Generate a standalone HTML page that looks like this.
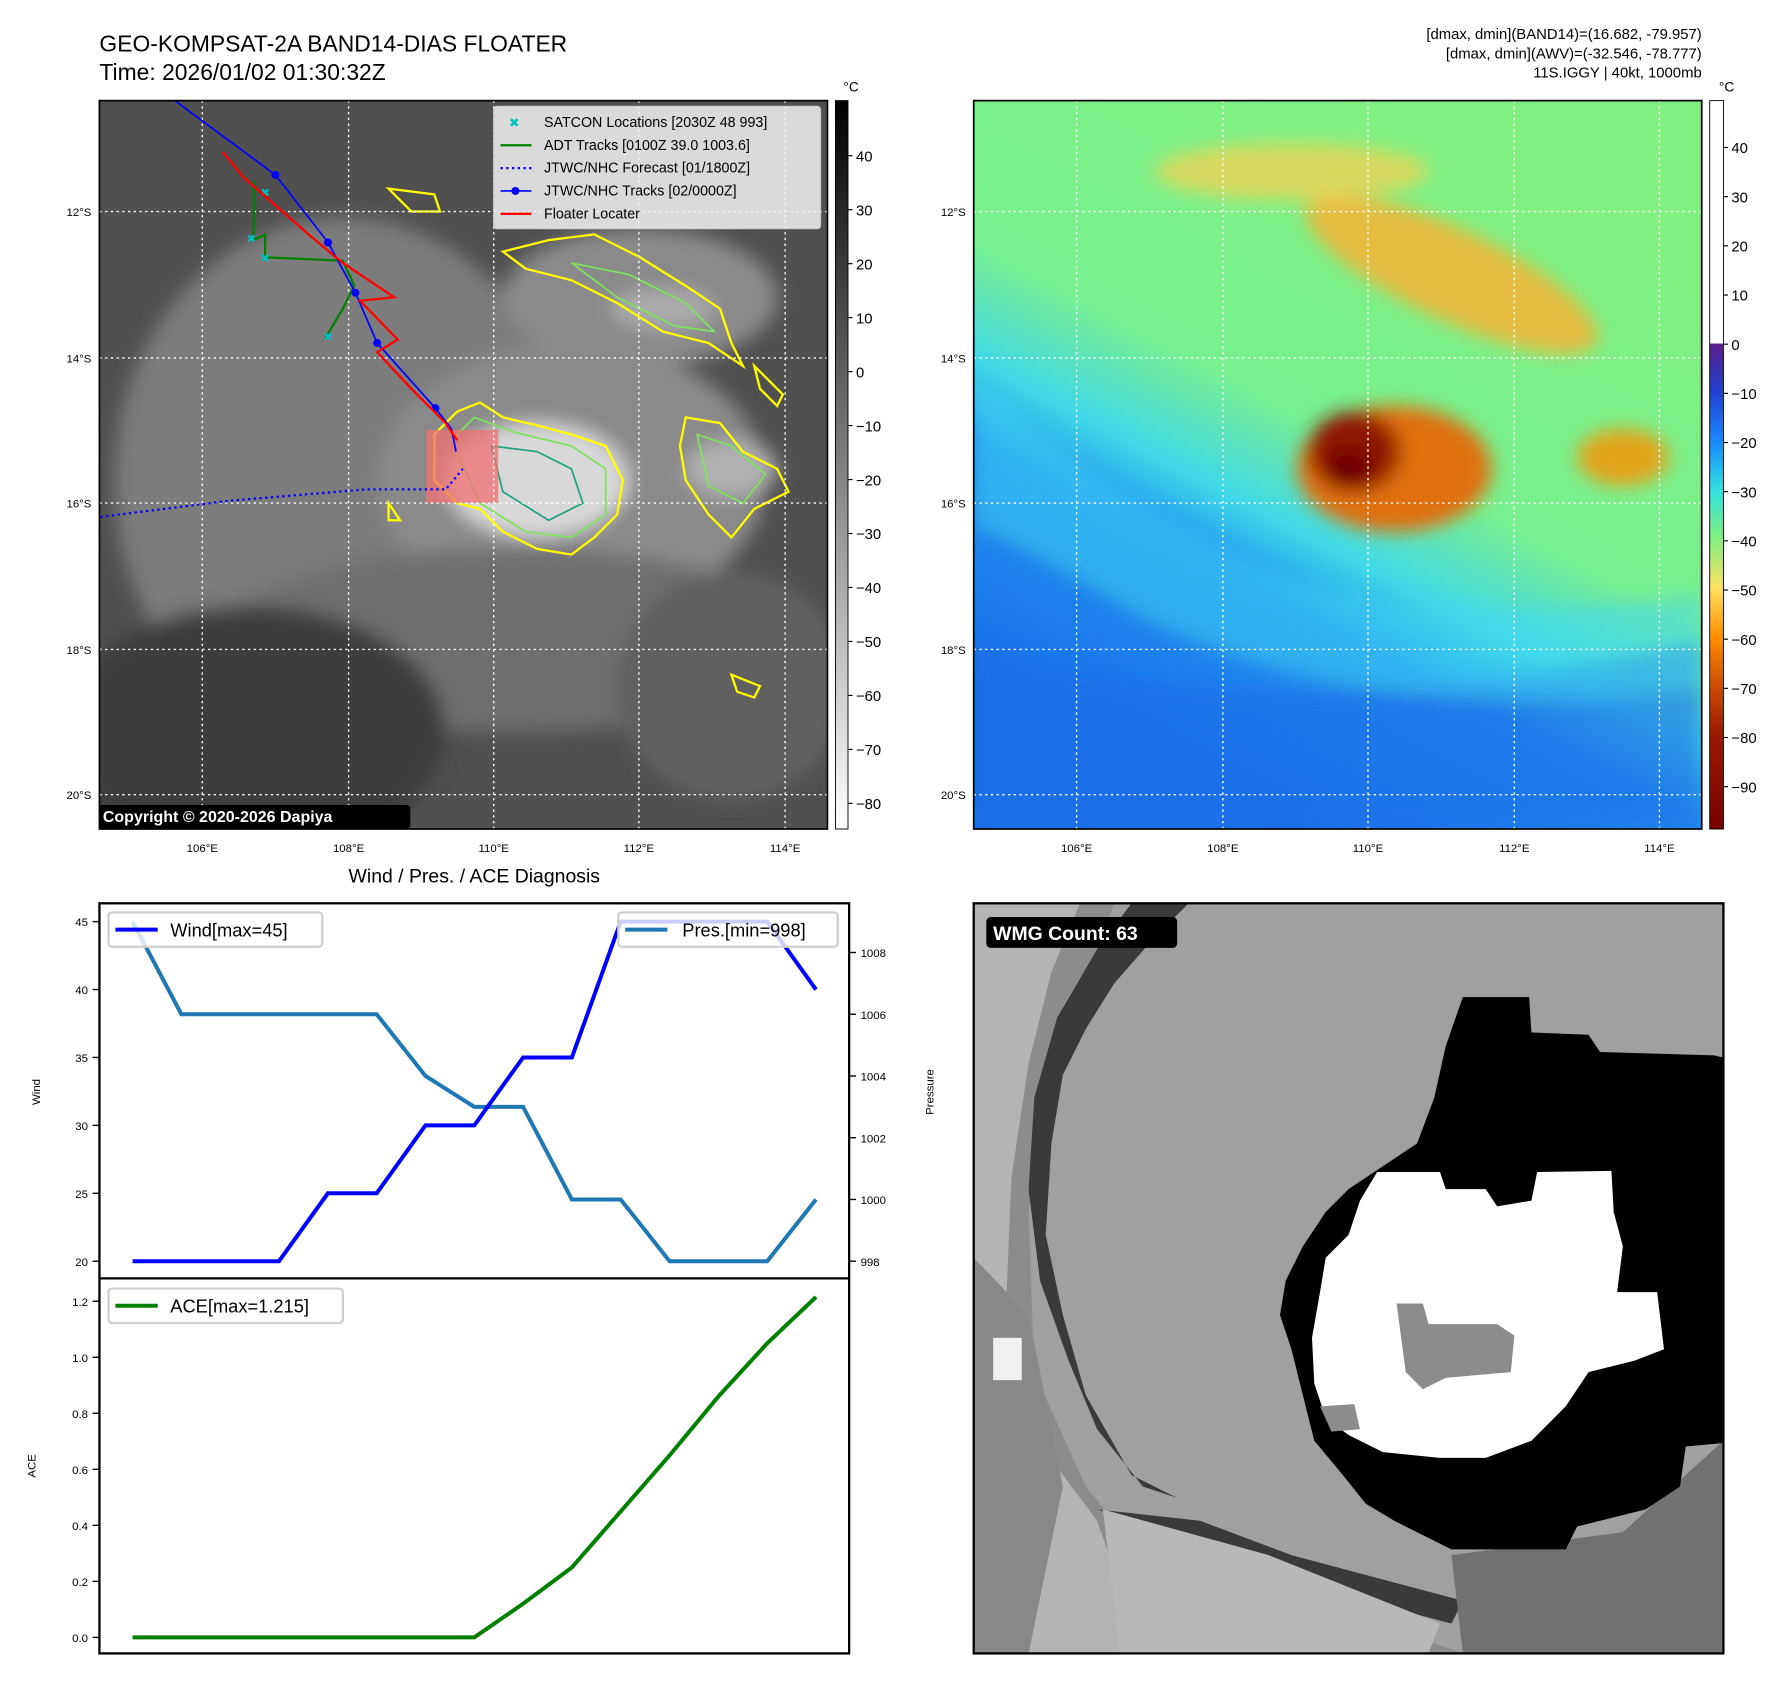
<!DOCTYPE html>
<html><head><meta charset="utf-8"><style>
html,body{margin:0;padding:0;background:#fff;}
svg{display:block;font-family:"Liberation Sans","DejaVu Sans",sans-serif;}
</style></head><body>
<svg id="root" width="1792" height="1690" viewBox="0 0 1568 1478" preserveAspectRatio="none" xmlns="http://www.w3.org/2000/svg">
<defs>
  <linearGradient id="gcb" x1="0" y1="0" x2="0" y2="1">
    <stop offset="0" stop-color="#000"/><stop offset="1" stop-color="#fff"/>
  </linearGradient>
  <linearGradient id="ccb" x1="0" y1="0" x2="0" y2="1">
    <stop offset="0" stop-color="#fff"/><stop offset="0.333" stop-color="#fff"/>
    <stop offset="0.334" stop-color="#5a1f8a"/><stop offset="0.40" stop-color="#2040d0"/>
    <stop offset="0.47" stop-color="#1a8cff"/><stop offset="0.535" stop-color="#30e0e0"/>
    <stop offset="0.60" stop-color="#80f080"/><stop offset="0.67" stop-color="#ffe060"/>
    <stop offset="0.735" stop-color="#ff9000"/><stop offset="0.80" stop-color="#d05000"/>
    <stop offset="0.87" stop-color="#9a1a00"/><stop offset="1" stop-color="#780000"/>
  </linearGradient>
  <linearGradient id="rmap" x1="0.75" y1="0.1" x2="0.3" y2="0.95">
    <stop offset="0" stop-color="#80f080"/><stop offset="0.45" stop-color="#78f090"/>
    <stop offset="0.6" stop-color="#40d8e8"/><stop offset="0.7" stop-color="#2090f0"/>
    <stop offset="1" stop-color="#1a70e8"/>
  </linearGradient>
  <filter id="blur8"><feGaussianBlur stdDeviation="8"/></filter>
  <clipPath id="clipL"><rect x="87" y="88" width="637" height="637"/></clipPath>
  <clipPath id="clipR"><rect x="852" y="88" width="637" height="637"/></clipPath>
  <clipPath id="clipB"><rect x="852" y="790" width="656" height="656"/></clipPath>
</defs>

<text x="87" y="45" font-size="20">GEO-KOMPSAT-2A BAND14-DIAS FLOATER</text>
<text x="87" y="70" font-size="20">Time: 2026/01/02 01:30:32Z</text>
<g font-size="13" text-anchor="end">
  <text x="1489" y="34">[dmax, dmin](BAND14)=(16.682, -79.957)</text>
  <text x="1489" y="51">[dmax, dmin](AWV)=(-32.546, -78.777)</text>
  <text x="1489" y="68">11S.IGGY | 40kt, 1000mb</text>
</g>

<!-- LEFT MAP -->
<g clip-path="url(#clipL)">
  <rect x="87" y="88" width="637" height="637" fill="#505050"/>
  <g filter="url(#blur8)">
    <ellipse cx="300" cy="420" rx="200" ry="230" fill="#7c7c7c"/>
    <ellipse cx="500" cy="420" rx="170" ry="120" fill="#8a8a8a"/>
    <ellipse cx="560" cy="260" rx="120" ry="60" fill="#8a8a8a"/>
    <ellipse cx="450" cy="560" rx="260" ry="80" fill="#6e6e6e"/>
    <ellipse cx="220" cy="640" rx="170" ry="110" fill="#3c3c3c"/>
    <ellipse cx="640" cy="600" rx="100" ry="100" fill="#606060"/>
    <ellipse cx="470" cy="420" rx="80" ry="50" fill="#d8d8d8"/>
    <ellipse cx="640" cy="410" rx="40" ry="25" fill="#b0b0b0"/>
    <ellipse cx="580" cy="270" rx="45" ry="18" fill="#aaa"/>
  </g>
  <path d="M380,380 L400,360 L420,352 L440,365 L470,372 L500,380 L530,390 L545,420 L540,450 L520,470 L500,485 L470,480 L440,465 L420,445 L400,440 L380,420 Z" fill="none" stroke="#ffff00" stroke-width="2"/>
  <path d="M395,385 L415,365 L450,378 L500,390 L530,410 L530,450 L500,470 L460,465 L420,440 Z" fill="none" stroke="#80e060" stroke-width="1.5"/>
  <path d="M430,390 L470,395 L500,410 L510,440 L480,455 L440,430 Z" fill="none" stroke="#20a080" stroke-width="1.5"/>
  <path d="M440,220 L480,210 L520,205 L560,225 L600,250 L630,270 L640,300 L650,320 L620,300 L580,290 L540,265 L500,245 L460,235 Z" fill="none" stroke="#ffff00" stroke-width="2"/>
  <path d="M500,230 L550,240 L600,265 L625,290 L590,285 L540,260 Z" fill="none" stroke="#80e060" stroke-width="1.5"/>
  <path d="M600,365 L630,370 L650,395 L680,410 L690,430 L660,445 L640,470 L620,450 L600,420 L595,390 Z" fill="none" stroke="#ffff00" stroke-width="2"/>
  <path d="M610,380 L640,390 L670,415 L650,440 L620,425 Z" fill="none" stroke="#80e060" stroke-width="1.5"/>
  <path d="M340,165 L380,170 L385,185 L360,185 Z M660,320 L685,345 L680,355 L665,340 Z M340,440 L350,455 L340,455 Z M640,590 L665,600 L660,610 L645,605 Z" fill="none" stroke="#ffff00" stroke-width="2"/>
  <rect x="373" y="376" width="63" height="64" fill="#f07070" fill-opacity="0.75"/>
  <g stroke="#fff" stroke-width="1.2" stroke-dasharray="2,3">
    <line x1="87" y1="185" x2="724" y2="185"/><line x1="87" y1="313" x2="724" y2="313"/>
    <line x1="87" y1="440" x2="724" y2="440"/><line x1="87" y1="568" x2="724" y2="568"/>
    <line x1="87" y1="695" x2="724" y2="695"/>
    <line x1="177" y1="88" x2="177" y2="725"/><line x1="305" y1="88" x2="305" y2="725"/>
    <line x1="432" y1="88" x2="432" y2="725"/><line x1="559" y1="88" x2="559" y2="725"/>
    <line x1="687" y1="88" x2="687" y2="725"/>
  </g>
  <polyline points="88,452 200,438 320,428 390,428 405,410" fill="none" stroke="#0000ff" stroke-width="2" stroke-dasharray="2,3"/>
  <polyline points="222,158 222,210 232,205 232,225 300,228 310,250 300,270 285,295" fill="none" stroke="#008000" stroke-width="2"/>
  <g fill="#00c0c0" font-size="10" text-anchor="middle">
    <text x="220" y="212">✖</text><text x="232" y="229">✖</text><text x="287" y="298">✖</text><text x="232" y="172">✖</text>
  </g>
  <polyline points="153,88 241,153 287,212 311,256 330,300 381,357 395,375 399,395" fill="none" stroke="#0000ff" stroke-width="1.5"/>
  <g fill="#0000ff"><circle cx="241" cy="153" r="3.5"/><circle cx="287" cy="212" r="3.5"/><circle cx="311" cy="256" r="3.5"/><circle cx="330" cy="300" r="3.5"/><circle cx="381" cy="357" r="3.5"/></g>
  <polyline points="195,133 213,155 270,205 300,230 345,260 315,263 348,297 330,308 360,340 390,370 400,385" fill="none" stroke="#ff0000" stroke-width="2"/>
  <rect x="432" y="93" width="286" height="107" rx="3" fill="#f2f2f2" fill-opacity="0.85" stroke="#ccc"/>
  <g font-size="12.5">
    <text x="450" y="111" fill="#00c0c0" font-size="11" text-anchor="middle">✖</text>
    <text x="476" y="111">SATCON Locations [2030Z 48 993]</text>
    <line x1="438" y1="127" x2="465" y2="127" stroke="#008000" stroke-width="2"/>
    <text x="476" y="131">ADT Tracks [0100Z 39.0 1003.6]</text>
    <line x1="438" y1="147" x2="465" y2="147" stroke="#0000ff" stroke-width="2" stroke-dasharray="2,3"/>
    <text x="476" y="151">JTWC/NHC Forecast [01/1800Z]</text>
    <line x1="438" y1="167" x2="465" y2="167" stroke="#0000ff" stroke-width="1.5"/><circle cx="451" cy="167" r="3.5" fill="#0000ff"/>
    <text x="476" y="171">JTWC/NHC Tracks [02/0000Z]</text>
    <line x1="438" y1="187" x2="465" y2="187" stroke="#ff0000" stroke-width="2"/>
    <text x="476" y="191">Floater Locater</text>
  </g>
  <rect x="86" y="704" width="273" height="21" rx="3" fill="#000"/>
  <text x="90" y="719" fill="#fff" font-size="14" font-weight="bold">Copyright © 2020-2026 Dapiya</text>
</g>
<rect x="87" y="88" width="637" height="637" fill="none" stroke="#000" stroke-width="1.5"/>

<g font-size="10" text-anchor="end">
  <text x="80" y="189">12°S</text><text x="80" y="317">14°S</text><text x="80" y="444">16°S</text><text x="80" y="572">18°S</text><text x="80" y="699">20°S</text>
</g>
<g font-size="10" text-anchor="middle">
  <text x="177" y="745">106°E</text><text x="305" y="745">108°E</text><text x="432" y="745">110°E</text><text x="559" y="745">112°E</text><text x="687" y="745">114°E</text>
</g>
<rect x="731" y="88" width="11" height="637" fill="url(#gcb)" stroke="#000" stroke-width="0.8"/>
<text x="738" y="80" font-size="12">°C</text>
<g id="gcbTicks" font-size="13"></g>

<!-- RIGHT MAP -->
<g clip-path="url(#clipR)">
  <rect x="852" y="88" width="637" height="637" fill="url(#rmap)"/>
  <g filter="url(#blur8)">
    <path d="M852,560 Q1100,650 1489,560 L1489,725 L852,725 Z" fill="#1a6ee6" opacity="0.6"/>
    <path d="M852,330 Q950,420 1050,470 Q1200,560 1489,520 L1489,600 Q1200,640 1000,540 Q900,480 852,460 Z" fill="#40d8f0" opacity="0.5"/>
    <ellipse cx="1270" cy="240" rx="140" ry="40" transform="rotate(25 1270 240)" fill="#ffb030" opacity="0.8"/>
    <ellipse cx="1130" cy="150" rx="120" ry="25" fill="#ffd050" opacity="0.7"/>
    <ellipse cx="1420" cy="400" rx="40" ry="25" fill="#ff9000" opacity="0.8"/>
    <ellipse cx="1220" cy="410" rx="85" ry="55" fill="#e07010"/>
    <ellipse cx="1185" cy="395" rx="40" ry="35" fill="#901800"/>
    <ellipse cx="1180" cy="410" rx="20" ry="18" fill="#700000"/>
  </g>
  <g stroke="#fff" stroke-width="1.2" stroke-dasharray="2,3">
    <line x1="852" y1="185" x2="1489" y2="185"/><line x1="852" y1="313" x2="1489" y2="313"/>
    <line x1="852" y1="440" x2="1489" y2="440"/><line x1="852" y1="568" x2="1489" y2="568"/>
    <line x1="852" y1="695" x2="1489" y2="695"/>
    <line x1="942" y1="88" x2="942" y2="725"/><line x1="1070" y1="88" x2="1070" y2="725"/>
    <line x1="1197" y1="88" x2="1197" y2="725"/><line x1="1325" y1="88" x2="1325" y2="725"/>
    <line x1="1452" y1="88" x2="1452" y2="725"/>
  </g>
</g>
<rect x="852" y="88" width="637" height="637" fill="none" stroke="#000" stroke-width="1.5"/>
<g font-size="10" text-anchor="end">
  <text x="845" y="189">12°S</text><text x="845" y="317">14°S</text><text x="845" y="444">16°S</text><text x="845" y="572">18°S</text><text x="845" y="699">20°S</text>
</g>
<g font-size="10" text-anchor="middle">
  <text x="942" y="745">106°E</text><text x="1070" y="745">108°E</text><text x="1197" y="745">110°E</text><text x="1325" y="745">112°E</text><text x="1452" y="745">114°E</text>
</g>
<rect x="1496" y="88" width="12" height="637" fill="url(#ccb)" stroke="#000" stroke-width="0.8"/>
<text x="1504" y="80" font-size="12">°C</text>
<g id="ccbTicks" font-size="13"></g>

<!-- BOTTOM LEFT CHART -->
<text x="415" y="772" font-size="17" text-anchor="middle">Wind / Pres. / ACE Diagnosis</text>
<g id="chart"></g>
<rect x="87" y="790" width="656" height="656" fill="none" stroke="#000" stroke-width="2"/>
<line x1="87" y1="1118" x2="743" y2="1118" stroke="#000" stroke-width="2"/>
<text transform="translate(35,955) rotate(-90)" font-size="10" text-anchor="middle">Wind</text>
<text transform="translate(817,955) rotate(-90)" font-size="10" text-anchor="middle">Pressure</text>
<text transform="translate(31,1282) rotate(-90)" font-size="10" text-anchor="middle">ACE</text>
<g>
  <rect x="95" y="798" width="187" height="30" rx="3" fill="#fff" fill-opacity="0.8" stroke="#d0d0d0" stroke-width="2"/>
  <line x1="101" y1="813" x2="138" y2="813" stroke="#0000ff" stroke-width="3.5"/>
  <text x="149" y="819" font-size="16">Wind[max=45]</text>
</g>
<g>
  <rect x="541" y="798" width="192" height="30" rx="3" fill="#fff" fill-opacity="0.8" stroke="#d0d0d0" stroke-width="2"/>
  <line x1="547" y1="813" x2="584" y2="813" stroke="#1f77b4" stroke-width="3.5"/>
  <text x="597" y="819" font-size="16">Pres.[min=998]</text>
</g>
<g>
  <rect x="95" y="1127" width="205" height="30" rx="3" fill="#fff" fill-opacity="0.8" stroke="#d0d0d0" stroke-width="2"/>
  <line x1="101" y1="1142" x2="138" y2="1142" stroke="#008000" stroke-width="3.5"/>
  <text x="149" y="1148" font-size="16">ACE[max=1.215]</text>
</g>

<!-- BOTTOM RIGHT WMG -->
<g clip-path="url(#clipB)">
  <rect x="852" y="790" width="656" height="656" fill="#a0a0a0"/>
  <path d="M852,790 L975,790 L960,830 L930,880 L915,950 L900,1060 L905,1200 L950,1300 L1000,1360 L1150,1400 L1280,1446 L852,1446 Z" fill="#8c8c8c"/>
  <path d="M852,790 L945,790 L920,850 L900,930 L885,1030 L880,1150 L900,1250 L960,1330 L1000,1446 L852,1446 Z" fill="#b4b4b4"/>
  <path d="M852,1100 L900,1150 L930,1300 L900,1446 L852,1446 Z" fill="#888"/>
  <path d="M990,790 L1040,790 L1010,820 L975,860 L950,900 L930,940 L920,1000 L915,1080 L930,1150 L950,1220 L990,1290 L1030,1310 L1000,1300 L960,1250 L935,1190 L910,1120 L900,1040 L905,960 L925,890 L960,830 Z" fill="#3a3a3a"/>
  <path d="M960,1320 L1060,1350 L1120,1380 L1270,1420 L1280,1400 L1130,1360 L1050,1330 Z" fill="#3a3a3a"/>
  <path d="M965,1320 L1110,1360 L1260,1420 L1250,1446 L980,1446 Z" fill="#b8b8b8"/>
  <path d="M1270,1360 L1420,1340 L1508,1260 L1508,1446 L1280,1446 Z" fill="#717171"/>
  <path d="M1280,872 L1338,872 L1340,903 L1390,905 L1400,920 L1500,923 L1508,925 L1508,1262 L1475,1265 L1470,1300 L1440,1320 L1380,1335 L1370,1355 L1270,1355 L1240,1340 L1220,1330 L1195,1315 L1175,1290 L1150,1260 L1140,1220 L1130,1180 L1120,1150 L1125,1120 L1140,1090 L1160,1060 L1180,1040 L1210,1020 L1240,1000 L1255,960 L1265,915 Z" fill="#000"/>
  <path d="M1205,1025 L1260,1025 L1265,1040 L1300,1040 L1310,1055 L1340,1050 L1345,1025 L1410,1024 L1412,1060 L1420,1090 L1415,1130 L1450,1130 L1456,1180 L1430,1190 L1390,1200 L1370,1230 L1340,1260 L1300,1275 L1260,1275 L1210,1270 L1180,1255 L1160,1240 L1150,1210 L1148,1170 L1155,1130 L1160,1100 L1180,1080 L1190,1050 Z" fill="#fff"/>
  <path d="M1222,1140 L1245,1140 L1250,1158 L1310,1158 L1325,1168 L1322,1200 L1265,1205 L1245,1215 L1230,1200 Z" fill="#8c8c8c"/>
  <path d="M1155,1230 L1185,1228 L1190,1250 L1165,1252 Z" fill="#8c8c8c"/>
  <rect x="869" y="1170" width="25" height="37" fill="#f0f0f0"/>
</g>
<rect x="852" y="790" width="656" height="656" fill="none" stroke="#000" stroke-width="2"/>
<rect x="863" y="802" width="167" height="27" rx="4" fill="#000"/>
<text x="869" y="822" font-size="17" font-weight="bold" fill="#fff">WMG Count: 63</text>

<script>
var windValues = [20,20,20,20,25,25,30,30,35,35,45,45,45,45,40];
var presValues = [1009,1006,1006,1006,1006,1006,1004,1003,1003,1000,1000,998,998,998,1000];
var aceValues = [0,0,0,0,0,0,0,0,0.12,0.25,0.45,0.65,0.86,1.05,1.215];
var windTicks = [20,25,30,35,40,45];
var presTicks = [998,1000,1002,1004,1006,1008];
var aceTicks = [0.0,0.2,0.4,0.6,0.8,1.0,1.2];
var grayCbTicks = [40,30,20,10,0,-10,-20,-30,-40,-50,-60,-70,-80];
var colorCbTicks = [40,30,20,10,0,-10,-20,-30,-40,-50,-60,-70,-80,-90];

var NS='http://www.w3.org/2000/svg';
function xS(i){return 116+i*(714-116)/(windValues.length-1);}
function yWind(v){return 1103+(v-20)*(806-1103)/25;}
function yPres(v){return 1103+(v-998)*(833-1103)/10;}
function yAce(v){return 1432+v*(1138-1432)/1.2;}
function yGray(v){return 325+(0-v)*4.72;}
function yColor(v){return 301+(0-v)*4.3;}
var chart=document.getElementById('chart');
function mk(tag,attrs,parent){var e=document.createElementNS(NS,tag);for(var k in attrs)e.setAttribute(k,attrs[k]);parent.appendChild(e);return e;}
function line(vals,yf,color,name){
  var pts=vals.map(function(v,i){return xS(i).toFixed(1)+','+yf(v).toFixed(1);}).join(' ');
  var p=mk('polyline',{points:pts,fill:'none',stroke:color,'stroke-width':3.5},chart);
  
  
}
line(presValues,yPres,'#1f77b4','pressure-line');
line(windValues,yWind,'#0000ff','wind-line');
line(aceValues,yAce,'#008000','ace-line');
function ticks(arr,yf,x,side,fmt,parent,name){
  arr.forEach(function(v){
    var y=yf(v);
    mk('line',{x1:x,y1:y,x2:x+(side<0?-6:6),y2:y,stroke:'#000','stroke-width':1.2},parent);
    var tx=mk('text',{x:side<0?x-10:x+10,y:y+4,'font-size':10,'text-anchor':side<0?'end':'start'},parent);
    tx.textContent=fmt(v);
    
    
  });
}
ticks(windTicks,yWind,87,-1,function(v){return v;},chart,'wind-tick-label');
ticks(presTicks,yPres,743,1,function(v){return v;},chart,'pressure-tick-label');
ticks(aceTicks,yAce,87,-1,function(v){return v.toFixed(1);},chart,'ace-tick-label');
function cbTicks(arr,yf,x,id){
  var g=document.getElementById(id);
  arr.forEach(function(v){
    var y=yf(v);
    mk('line',{x1:x,y1:y,x2:x+4,y2:y,stroke:'#000','stroke-width':1},g);
    var t=mk('text',{x:x+7,y:y+5},g);
    t.textContent=(v<0?'\u2212'+(-v):v);
    
    
  });
}
cbTicks(grayCbTicks,yGray,742,'gcbTicks');
cbTicks(colorCbTicks,yColor,1508,'ccbTicks');
</script>
</svg>
</body></html>
